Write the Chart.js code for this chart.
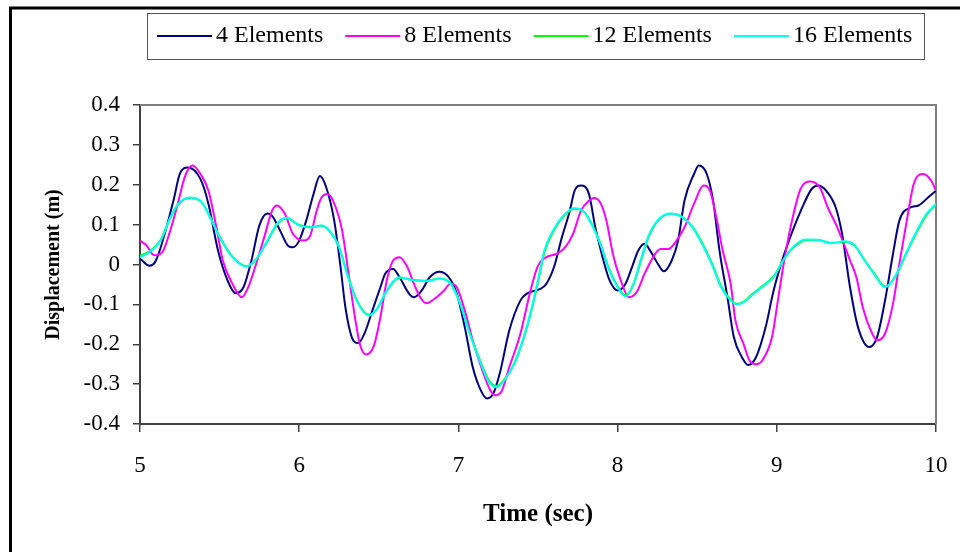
<!DOCTYPE html>
<html>
<head>
<meta charset="utf-8">
<title>Displacement vs time</title>
<script src="https://cdn.jsdelivr.net/npm/chart.js@4.4.1/dist/chart.umd.min.js"></script>
<style>
  html, body { margin: 0; padding: 0; background: #fff; }
  canvas { display: block; }
</style>
</head>
<body>
<canvas id="myChart" width="960" height="552"></canvas>
<script>

const seriesNames = ['4 Elements', '8 Elements', '12 Elements', '16 Elements'];
const seriesColors = ['#000080', '#ff00ff', '#00ff00', '#00ffff'];

// time (sec) / displacement (m) for each mesh
const t4 = [5.00,5.06,5.10,5.21,5.25,5.30,5.38,5.43,5.49,5.55,
  5.60,5.65,5.70,5.75,5.80,5.83,5.88,5.93,5.96,6.00,
  6.05,6.09,6.13,6.17,6.22,6.26,6.29,6.33,6.37,6.41,
  6.46,6.51,6.54,6.59,6.63,6.69,6.72,6.77,6.82,6.88,
  6.94,6.99,7.04,7.09,7.14,7.18,7.22,7.26,7.32,7.39,
  7.43,7.51,7.55,7.60,7.65,7.70,7.73,7.77,7.82,7.86,
  7.90,7.95,8.00,8.05,8.09,8.13,8.17,8.21,8.26,8.29,
  8.34,8.38,8.42,8.48,8.51,8.56,8.60,8.64,8.69,8.73,
  8.78,8.82,8.87,8.93,8.98,9.04,9.10,9.17,9.22,9.26,
  9.31,9.37,9.41,9.46,9.51,9.58,9.63,9.68,9.73,9.77,
  9.84,9.89,9.95,10.00];
const d4 = [0.015,-0.003,0.01,0.16,0.227,0.243,0.214,0.152,0.035,-0.04,
  -0.072,-0.057,0.01,0.098,0.128,0.122,0.085,0.047,0.043,0.06,
  0.118,0.177,0.222,0.193,0.11,-0.007,-0.107,-0.182,-0.197,-0.173,
  -0.115,-0.057,-0.023,-0.011,-0.032,-0.073,-0.082,-0.065,-0.032,-0.018,
  -0.032,-0.073,-0.157,-0.257,-0.315,-0.336,-0.323,-0.273,-0.165,-0.09,
  -0.073,-0.062,-0.05,-0.007,0.068,0.135,0.185,0.198,0.177,0.093,
  0.027,-0.04,-0.065,-0.048,-0.007,0.035,0.052,0.031,-0.003,-0.017,
  0.01,0.06,0.16,0.227,0.248,0.227,0.16,0.035,-0.082,-0.182,
  -0.232,-0.252,-0.232,-0.157,-0.065,0.018,0.085,0.152,0.19,0.198,
  0.185,0.143,0.077,-0.057,-0.157,-0.207,-0.182,-0.09,0.027,0.11,
  0.143,0.148,0.168,0.185];

const t8 = [5.00,5.04,5.09,5.14,5.19,5.24,5.28,5.33,5.38,5.43,
  5.48,5.52,5.58,5.64,5.68,5.73,5.78,5.83,5.86,5.91,
  5.96,6.03,6.07,6.11,6.14,6.18,6.23,6.27,6.31,6.35,
  6.38,6.42,6.47,6.51,6.55,6.59,6.63,6.68,6.72,6.76,
  6.80,6.85,6.91,6.95,6.99,7.04,7.09,7.15,7.20,7.23,
  7.27,7.32,7.39,7.45,7.50,7.55,7.62,7.67,7.72,7.77,
  7.82,7.85,7.89,7.93,7.97,8.02,8.07,8.12,8.17,8.23,
  8.27,8.32,8.37,8.42,8.48,8.54,8.58,8.62,8.66,8.71,
  8.74,8.79,8.83,8.87,8.91,8.97,9.01,9.05,9.10,9.15,
  9.21,9.27,9.32,9.38,9.46,9.50,9.54,9.59,9.63,9.68,
  9.73,9.77,9.82,9.86,9.92,9.97,10.00];
const d8 = [0.06,0.048,0.023,0.031,0.085,0.156,0.218,0.248,0.227,0.185,
  0.093,0.01,-0.048,-0.082,-0.057,0.002,0.068,0.135,0.148,0.127,
  0.077,0.06,0.073,0.135,0.168,0.177,0.143,0.085,-0.023,-0.132,
  -0.198,-0.226,-0.203,-0.132,-0.04,0.01,0.018,-0.007,-0.048,-0.082,
  -0.097,-0.086,-0.065,-0.048,-0.057,-0.115,-0.19,-0.265,-0.315,-0.328,
  -0.319,-0.257,-0.173,-0.07,-0.003,0.018,0.027,0.043,0.077,0.135,
  0.16,0.167,0.156,0.11,0.027,-0.04,-0.082,-0.069,-0.023,0.023,
  0.039,0.039,0.06,0.093,0.152,0.198,0.185,0.118,0.035,-0.048,
  -0.14,-0.198,-0.242,-0.25,-0.24,-0.182,-0.082,0.018,0.118,0.19,
  0.208,0.193,0.143,0.093,0.01,-0.032,-0.107,-0.165,-0.19,-0.173,
  -0.098,0.002,0.118,0.202,0.227,0.21,0.185];

// 12 and 16 element runs share the same output times
const t16 = [5.00,5.06,5.13,5.19,5.24,5.31,5.38,5.44,5.50,5.57,
  5.67,5.73,5.80,5.86,5.92,6.00,6.07,6.14,6.19,6.25,
  6.30,6.36,6.44,6.49,6.55,6.63,6.72,6.80,6.88,6.95,
  7.01,7.07,7.14,7.19,7.24,7.29,7.35,7.41,7.46,7.51,
  7.54,7.60,7.66,7.73,7.79,7.84,7.89,7.94,8.00,8.05,
  8.10,8.15,8.20,8.26,8.33,8.40,8.47,8.53,8.59,8.65,
  8.71,8.75,8.79,8.85,8.92,8.98,9.04,9.10,9.18,9.26,
  9.34,9.42,9.49,9.55,9.61,9.68,9.74,9.81,9.87,9.94,
  10.00];
const d12 = [0.022,0.033,0.062,0.116,0.15,0.167,0.159,0.12,0.07,0.025,
  -0.004,0.013,0.058,0.1,0.116,0.099,0.094,0.097,0.084,0.045,
  -0.02,-0.088,-0.126,-0.111,-0.067,-0.033,-0.039,-0.041,-0.035,-0.047,
  -0.096,-0.17,-0.245,-0.29,-0.305,-0.288,-0.25,-0.185,-0.113,-0.025,
  0.03,0.086,0.121,0.14,0.132,0.1,0.055,-0.004,-0.055,-0.078,
  -0.05,0.014,0.074,0.112,0.127,0.121,0.095,0.055,0.005,-0.054,
  -0.088,-0.099,-0.094,-0.073,-0.051,-0.03,0.011,0.041,0.061,0.061,
  0.054,0.057,0.047,0.012,-0.021,-0.055,-0.034,0.024,0.074,0.124,
  0.15];
const d16 = [0.018,0.031,0.06,0.118,0.152,0.168,0.16,0.118,0.068,0.023,
  -0.005,0.014,0.06,0.102,0.117,0.098,0.093,0.098,0.085,0.043,
  -0.023,-0.09,-0.128,-0.11,-0.065,-0.032,-0.04,-0.042,-0.036,-0.048,
  -0.098,-0.173,-0.248,-0.294,-0.308,-0.29,-0.248,-0.182,-0.11,-0.02,
  0.035,0.089,0.123,0.141,0.131,0.098,0.052,-0.007,-0.057,-0.08,
  -0.048,0.018,0.077,0.114,0.128,0.12,0.093,0.052,0.002,-0.057,
  -0.09,-0.1,-0.095,-0.075,-0.053,-0.032,0.01,0.043,0.063,0.062,
  0.053,0.058,0.048,0.01,-0.023,-0.057,-0.032,0.027,0.077,0.127,
  0.152];

const xTicks = [5, 6, 7, 8, 9, 10];
const yTicks = [-0.4, -0.3, -0.2, -0.1, 0, 0.1, 0.2, 0.3, 0.4];

const FONT = "'Liberation Serif', 'Times New Roman', serif";

function pairs(ts, ds) {
  return ts.map((t, i) => ({ x: t, y: ds[i] }));
}

const seriesData = [pairs(t4, d4), pairs(t8, d8), pairs(t16, d12), pairs(t16, d16)];

// white page + heavy black frame (only top/left edges fall inside the canvas)
const pageFrame = {
  id: 'pageFrame',
  beforeDraw(chart) {
    const c = chart.ctx;
    c.save();
    c.fillStyle = '#fff';
    c.fillRect(0, 0, chart.width, chart.height);
    c.strokeStyle = '#000';
    c.lineWidth = 3;
    c.strokeRect(10.5, 8, chart.width + 20, chart.height + 20);
    c.restore();
  }
};

// grey top/right edges of the plot area
const plotEdges = {
  id: 'plotEdges',
  beforeDatasetsDraw(chart) {
    const a = chart.chartArea;
    const c = chart.ctx;
    c.save();
    c.strokeStyle = '#808080';
    c.lineWidth = 2;
    c.beginPath();
    c.moveTo(a.left, a.top);
    c.lineTo(a.right, a.top);
    c.lineTo(a.right, a.bottom);
    c.stroke();
    c.restore();
  }
};

// one-row legend inside a thin box
const boxLegend = {
  id: 'boxLegend',
  afterDraw(chart) {
    const c = chart.ctx;
    const box = { x: 147, y: 13, w: 777, h: 46 };
    const midY = box.y + box.h / 2;
    c.save();
    c.strokeStyle = '#555';
    c.lineWidth = 1;
    c.strokeRect(box.x + 0.5, box.y + 0.5, box.w, box.h);
    c.font = '24px ' + FONT;
    c.textBaseline = 'middle';
    c.fillStyle = '#000';
    let x = 157;
    chart.data.datasets.forEach(ds => {
      c.strokeStyle = ds.borderColor;
      c.lineWidth = 2;
      c.beginPath();
      c.moveTo(x, midY);
      c.lineTo(x + 55, midY);
      c.stroke();
      x += 59;
      c.fillText(ds.label, x, midY);
      x += c.measureText(ds.label).width + 22;
    });
    c.restore();
  }
};

const options = {
  type: 'line',
  data: {
    datasets: seriesNames.map((name, i) => ({
      label: name,
      data: seriesData[i],
      borderColor: seriesColors[i],
      backgroundColor: seriesColors[i],
      borderWidth: 2,
      pointRadius: 0,
      fill: false,
      cubicInterpolationMode: 'monotone',
      order: seriesNames.length - i
    }))
  },
  options: {
    responsive: false,
    animation: false,
    events: [],
    layout: {
      padding: { top: 105, right: 24, left: 0, bottom: 0 }
    },
    plugins: {
      legend: { display: false },
      tooltip: { enabled: false }
    },
    scales: {
      x: {
        type: 'linear',
        min: 5,
        max: 10,
        afterBuildTicks: (scale) => { scale.ticks = xTicks.map(v => ({ value: v })); },
        afterFit: (scale) => {
          scale.height = 128;
          scale.paddingLeft = 0;
          scale.paddingRight = 0;
        },
        grid: {
          drawOnChartArea: false,
          drawTicks: true,
          tickLength: 8,
          color: '#404040',
          lineWidth: 1.5
        },
        border: { display: true, color: '#404040', width: 2 },
        ticks: {
          color: '#000',
          padding: 20,
          maxRotation: 0,
          font: { family: FONT, size: 23 }
        },
        title: {
          display: true,
          text: 'Time (sec)',
          color: '#000',
          font: { family: FONT, size: 25, weight: 'bold' },
          padding: { top: 0, bottom: 22 }
        }
      },
      y: {
        type: 'linear',
        min: -0.4,
        max: 0.4,
        afterBuildTicks: (scale) => { scale.ticks = yTicks.map(v => ({ value: v })); },
        afterFit: (scale) => { scale.width = 140; },
        grid: {
          drawOnChartArea: false,
          drawTicks: true,
          tickLength: 7,
          color: '#404040',
          lineWidth: 1.5
        },
        border: { display: true, color: '#404040', width: 2 },
        ticks: {
          color: '#000',
          padding: 13,
          font: { family: FONT, size: 23 },
          callback: (v) => (Math.abs(v) < 1e-9 ? '0' : v.toFixed(1))
        },
        title: {
          display: true,
          text: 'Displacement (m)',
          color: '#000',
          font: { family: FONT, size: 20, weight: 'bold' },
          padding: { top: 42, bottom: 0 }
        }
      }
    }
  },
  plugins: [pageFrame, plotEdges, boxLegend]
};

const ctx = document.getElementById('myChart').getContext('2d');
new Chart(ctx, options);
</script>
</body>
</html>
